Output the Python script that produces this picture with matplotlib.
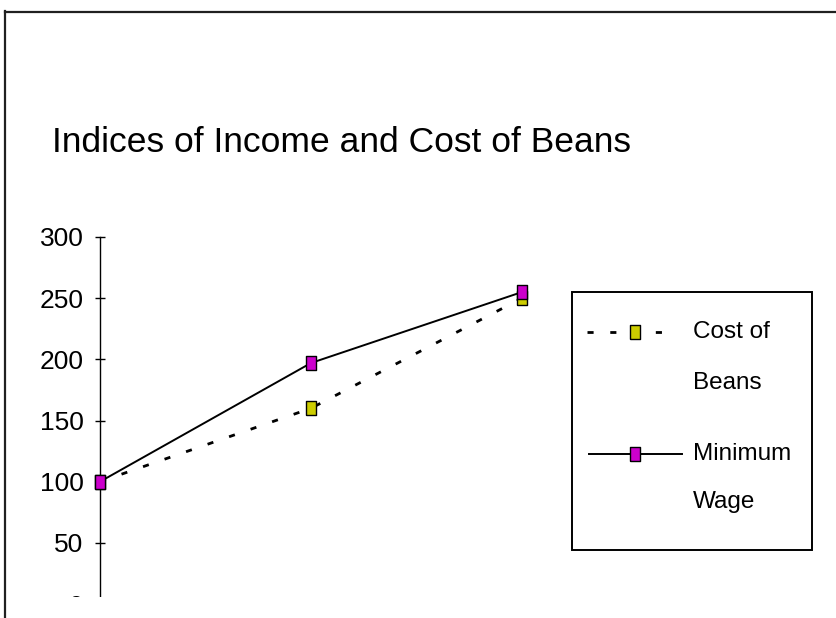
#!/usr/bin/env python3
import matplotlib
matplotlib.use('Agg')
import matplotlib.pyplot as plt
from matplotlib.lines import Line2D
from matplotlib.patches import Rectangle

# Dados (índices, base = 100)
periodos = [0, 1, 2]
custo_feijao = [100, 160, 250]
salario_minimo = [100, 197, 255]
rotulos_y = [0, 50, 100, 150, 200, 250, 300]

titulo = 'Indices of Income and Cost of Beans'
rotulo_custo = ['Cost of', 'Beans']
rotulo_salario = ['Minimum', 'Wage']

COR_CUSTO = '#CCCC00'
COR_SALARIO = '#CC00CC'
FONTE = ['Liberation Sans', 'DejaVu Sans']

# marcador retangular (mais alto que largo)
MARCADOR = [(-0.72, -1), (0.72, -1), (0.72, 1), (-0.72, 1), (-0.72, -1)]
TRACO = (2.2, 6)
W, H = 837, 618


def fx(px):
    return px / W


def fy(py):
    return 1 - py / H


def main():
    fig = plt.figure(figsize=(8.37, 6.18), dpi=100)

    # eixo: x de 100 a 522 px, y de 604 (0) a 237 (300)
    ax = fig.add_axes([fx(100), fy(604), fx(522) - fx(100), fy(237) - fy(604)])

    estilo_custo = dict(color='black', lw=2.0, dashes=TRACO, marker=MARCADOR,
                        markersize=10.5, markerfacecolor=COR_CUSTO,
                        markeredgecolor='black', markeredgewidth=1.0)
    estilo_salario = dict(color='black', lw=1.4, linestyle='-', marker=MARCADOR,
                          markersize=10.5, markerfacecolor=COR_SALARIO,
                          markeredgecolor='black', markeredgewidth=1.0)

    ax.plot(periodos, custo_feijao, clip_on=False, zorder=3, **estilo_custo)
    ax.plot(periodos, salario_minimo, clip_on=False, zorder=4, **estilo_salario)

    ax.set_xlim(periodos[0], periodos[-1])
    ax.set_ylim(rotulos_y[0], rotulos_y[-1])
    ax.set_yticks(rotulos_y)
    ax.set_yticklabels([str(v) for v in rotulos_y], family=FONTE, fontsize=19)
    ax.set_xticks([])
    ax.tick_params(axis='y', direction='inout', length=7.5, width=1.0, pad=8)
    for lado in ['top', 'right', 'bottom']:
        ax.spines[lado].set_visible(False)
    ax.spines['left'].set_linewidth(1.0)

    # título
    fig.text(fx(52), fy(143), titulo, ha='left', va='center',
             family=FONTE, fontsize=25.5)

    # legenda desenhada à mão (alça alinhada com a primeira linha do texto)
    fig.add_artist(Rectangle((fx(572), fy(550)), fx(812) - fx(572), fy(292) - fy(550),
                             transform=fig.transFigure, fill=False,
                             edgecolor='black', lw=1.4))
    fig.add_artist(Line2D([fx(587), fx(665)], [fy(332)] * 2, transform=fig.transFigure,
                          color='black', lw=2.0, dashes=TRACO))
    fig.add_artist(Line2D([fx(635)], [fy(332)], transform=fig.transFigure,
                          linestyle='none', marker=MARCADOR, markersize=10.5,
                          markerfacecolor=COR_CUSTO, markeredgecolor='black'))
    fig.add_artist(Line2D([fx(589), fx(682)], [fy(454)] * 2, transform=fig.transFigure,
                          color='black', lw=1.4))
    fig.add_artist(Line2D([fx(635)], [fy(454)], transform=fig.transFigure,
                          linestyle='none', marker=MARCADOR, markersize=10.5,
                          markerfacecolor=COR_SALARIO, markeredgecolor='black'))
    for texto, py in zip(rotulo_custo + rotulo_salario, [332, 383, 454, 502]):
        fig.text(fx(693), fy(py), texto, ha='left', va='center',
                 family=FONTE, fontsize=17.5)

    # parte de baixo recortada na imagem original
    fig.add_artist(Rectangle((fx(7), 0), 1, fy(597), transform=fig.transFigure,
                             facecolor='white', edgecolor='none', zorder=10))

    # moldura (só aparecem a esquerda e o topo)
    fig.add_artist(Line2D([fx(5), fx(5)], [0, fy(11)], transform=fig.transFigure,
                          color='#202020', lw=1.6, zorder=11))
    fig.add_artist(Line2D([fx(5), 1], [fy(11.5), fy(11.5)], transform=fig.transFigure,
                          color='#202020', lw=1.6, zorder=11))

    fig.savefig('out.png', dpi=100)


if __name__ == '__main__':
    main()
